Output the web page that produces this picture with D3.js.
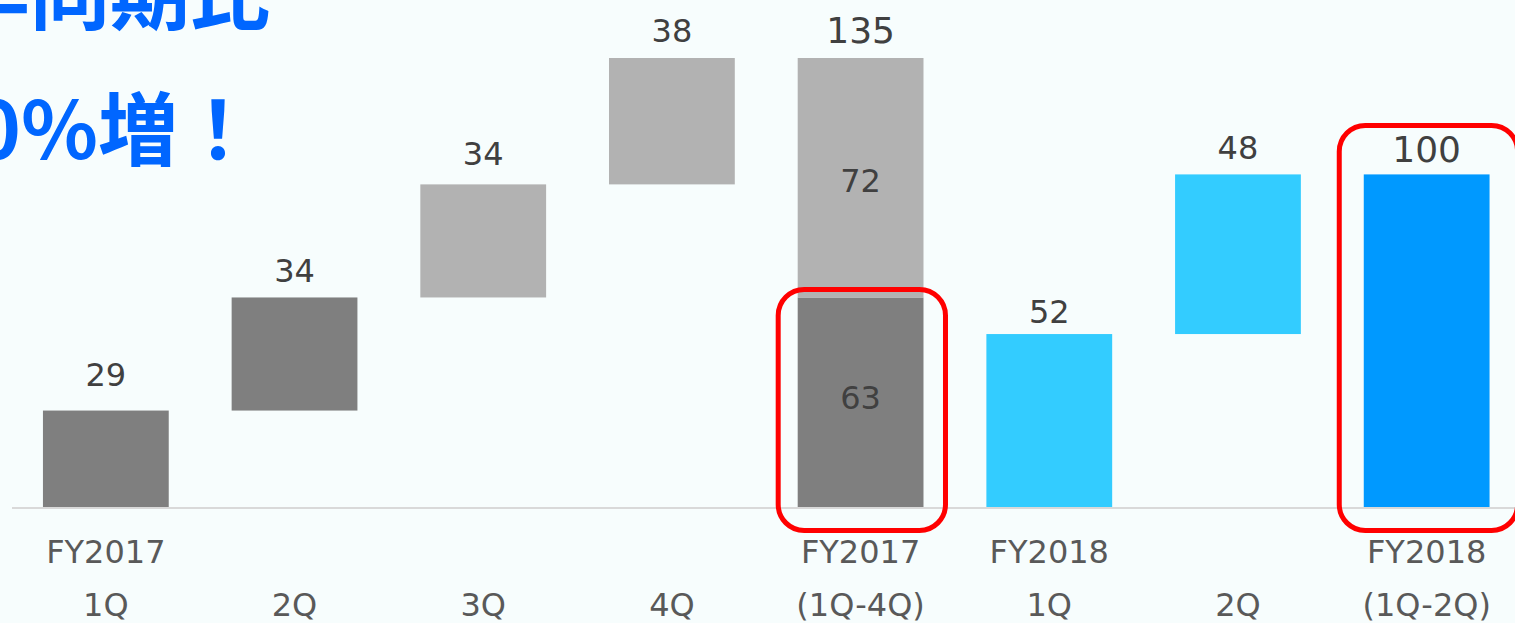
<!DOCTYPE html>
<html>
<head>
<meta charset="utf-8">
<script src="https://cdn.jsdelivr.net/npm/d3@7"></script>
<style>
  html, body { margin: 0; padding: 0; background: #f7fdfd; overflow: hidden; }
  svg { display: block; }
</style>
</head>
<body>
<svg id="chart" width="1515" height="623"></svg>
<script>
// ---- data ----
const yearLabels = ["FY2017", "", "", "", "FY2017", "FY2018", "", "FY2018"];
const periodLabels = ["1Q", "2Q", "3Q", "4Q", "(1Q-4Q)", "1Q", "2Q", "(1Q-2Q)"];
const fy2017Quarters = [29, 34, 34, 38];
const fy2017Total = 135;
const fy2017Split = [63, 72];      // 1Q-2Q, 3Q-4Q
const fy2018Quarters = [52, 48];
const fy2018Total = 100;
const titleLines = ["前年同期比", "約60%増！"];

// ---- style: colours and hand-placed label nudges (px) ----
const cDark = "#7f7f7f", cLight = "#b2b2b2", cBlueLight = "#33ccff", cBlue = "#0099ff";
const topGap = [25, 15, 19, 16, 15, 11, 15, 12];   // gap between label baseline and bar top
const midShift = [7, 14];                          // 63, 72 label baseline below segment middle

// ---- build waterfall segments ----
const segs = [];
let run = 0;
fy2017Quarters.forEach((v, k) => {
  segs.push({i: k, y0: run, y1: run + v, color: k < 2 ? cDark : cLight, label: v, pos: "top"});
  run += v;
});
fy2017Split.reduce((acc, v, k) => {
  segs.push({i: 4, y0: acc, y1: acc + v, color: k === 0 ? cDark : cLight, label: v, pos: "mid", m: k});
  return acc + v;
}, 0);
run = 0;
fy2018Quarters.forEach((v, k) => {
  segs.push({i: 5 + k, y0: run, y1: run + v, color: cBlueLight, label: v, pos: "top"});
  run += v;
});
segs.push({i: 7, y0: 0, y1: fy2018Total, color: cBlue, label: fy2018Total, pos: "top", big: true});
const totalLabels = [{i: 4, v: fy2017Total}];

// ---- scales ----
const svg = d3.select("#chart");
const idx = d3.range(periodLabels.length);
const x = d3.scaleBand().domain(idx).range([11.5, 1521]).paddingInner(1/3).paddingOuter(1/6);
const y = d3.scaleLinear().domain([0, fy2017Total]).range([507, 58]);
const bw = x.bandwidth();

// ---- title (partially off-canvas, as in the original slide) ----
const title = svg.append("g")
  .attr("font-family", "'Noto Sans CJK JP', sans-serif")
  .attr("font-weight", "bold").attr("font-size", 80).attr("fill", "#0066ff")
  .attr("text-anchor", "end");
title.append("text").attr("x", 270).attr("y", 23).text(titleLines[0]);
title.append("text").attr("x", 258).attr("y", 159).text(titleLines[1]);

// ---- axis line ----
svg.append("line").attr("x1", 12).attr("x2", 1515)
  .attr("y1", y(0) + 1).attr("y2", y(0) + 1)
  .attr("stroke", "#d9d9d9").attr("stroke-width", 2);

// ---- bars ----
svg.append("g").selectAll("rect").data(segs).join("rect")
  .attr("x", d => x(d.i)).attr("width", bw)
  .attr("y", d => y(d.y1)).attr("height", d => y(d.y0) - y(d.y1))
  .attr("fill", d => d.color);

// ---- value labels ----
const lab = svg.append("g").attr("font-family", "'DejaVu Sans', Verdana, sans-serif")
  .attr("fill", "#404040").attr("text-anchor", "middle");
lab.selectAll("text.v").data(segs).join("text")
  .attr("x", d => x(d.i) + bw / 2)
  .attr("y", d => d.pos === "top" ? y(d.y1) - topGap[d.i] : (y(d.y0) + y(d.y1)) / 2 + midShift[d.m])
  .attr("font-size", d => d.big ? 36 : 32)
  .text(d => d.label);
lab.selectAll("text.t").data(totalLabels).join("text")
  .attr("x", d => x(d.i) + bw / 2).attr("y", d => y(d.v) - topGap[d.i])
  .attr("font-size", 36).text(d => d.v);

// ---- category labels ----
const cat = svg.append("g").attr("font-family", "'DejaVu Sans', Verdana, sans-serif")
  .attr("fill", "#595959").attr("text-anchor", "middle").attr("font-size", 32);
cat.selectAll("text.a").data(idx).join("text")
  .attr("x", i => x(i) + bw / 2).attr("y", 563).text(i => yearLabels[i]);
cat.selectAll("text.b").data(idx).join("text")
  .attr("x", i => x(i) + bw / 2).attr("y", 616).text(i => periodLabels[i]);

// ---- red highlight boxes ----
const boxes = [
  {i: 4, top: fy2017Split[0], padTop: 8, padL: 19.5, padR: 22},
  {i: 7, top: fy2018Total, padTop: 49, padL: 24.5, padR: 28}
];
svg.append("g").selectAll("rect").data(boxes).join("rect")
  .attr("x", d => x(d.i) - d.padL).attr("width", d => bw + d.padL + d.padR)
  .attr("y", d => y(d.top) - d.padTop)
  .attr("height", d => y(0) + 23.5 - (y(d.top) - d.padTop))
  .attr("rx", 26).attr("ry", 26)
  .attr("fill", "none").attr("stroke", "#ff0000").attr("stroke-width", 5);
</script>
</body>
</html>
